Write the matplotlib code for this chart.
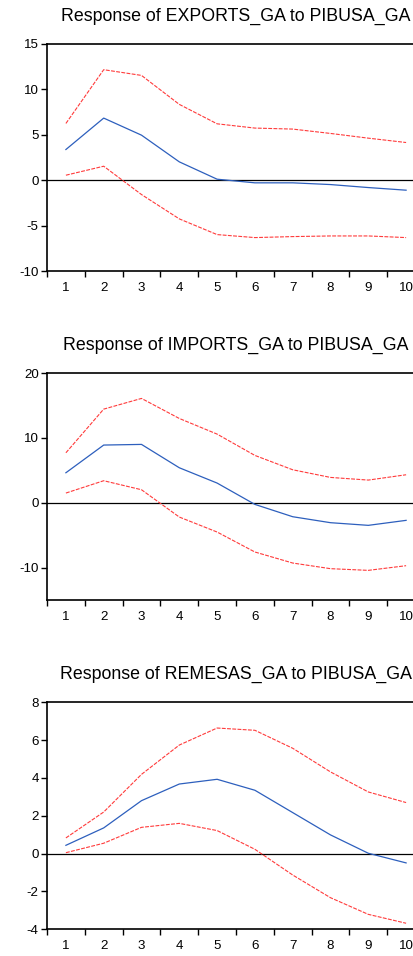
import matplotlib
matplotlib.use("Agg")
import matplotlib.pyplot as plt
from matplotlib.ticker import FixedLocator

plt.rcParams['font.family'] = ['Liberation Sans', 'DejaVu Sans']

periods = list(range(1, 11))

# Impulse responses to a PIBUSA_GA shock, with +/- 2 S.E. bands
exports_resp = [3.38, 6.84, 4.96, 2.02, 0.11, -0.29, -0.29, -0.48, -0.81, -1.10]
exports_upper = [6.25, 12.17, 11.54, 8.35, 6.21, 5.74, 5.63, 5.15, 4.63, 4.15]
exports_lower = [0.55, 1.54, -1.58, -4.26, -5.99, -6.32, -6.21, -6.14, -6.14, -6.32]

imports_resp = [4.62, 8.89, 8.99, 5.39, 3.03, -0.26, -2.16, -3.08, -3.49, -2.72]
imports_upper = [7.70, 14.43, 16.08, 12.99, 10.58, 7.29, 5.08, 3.90, 3.49, 4.31]
imports_lower = [1.49, 3.39, 2.00, -2.21, -4.52, -7.60, -9.30, -10.17, -10.43, -9.71]

remesas_resp = [0.44, 1.36, 2.80, 3.68, 3.93, 3.35, 2.17, 0.99, 0.02, -0.49]
remesas_upper = [0.83, 2.20, 4.19, 5.74, 6.64, 6.52, 5.57, 4.32, 3.26, 2.70]
remesas_lower = [0.05, 0.55, 1.39, 1.60, 1.22, 0.23, -1.13, -2.33, -3.21, -3.68]

titles = ["Response of EXPORTS_GA to PIBUSA_GA",
          "Response of IMPORTS_GA to PIBUSA_GA",
          "Response of REMESAS_GA to PIBUSA_GA"]
y_limits = [(-10, 15), (-15, 20), (-4, 8)]
y_ticks = [[-10, -5, 0, 5, 10, 15], [-10, 0, 10, 20], [-4, -2, 0, 2, 4, 6, 8]]

panels = [
    (exports_resp, exports_upper, exports_lower),
    (imports_resp, imports_upper, imports_lower),
    (remesas_resp, remesas_upper, remesas_lower),
]

W, H = 414, 956
fig = plt.figure(figsize=(W / 100, H / 100), dpi=100)

left_px, width_px = 47, 378
tops_px = [44, 373, 702.3]
height_px = 227

blue = "#2d5fbd"
red = "#ff3b3b"

for i, (resp, up, lo) in enumerate(panels):
    top = tops_px[i]
    ax = fig.add_axes([left_px / W, (H - top - height_px) / H,
                       width_px / W, height_px / H])
    ax.axhline(0, color="black", lw=0.9, zorder=1)
    ax.plot(periods, up, color=red, lw=0.8, dashes=(3.5, 1.2), zorder=2)
    ax.plot(periods, lo, color=red, lw=0.8, dashes=(3.5, 1.2), zorder=2)
    ax.plot(periods, resp, color=blue, lw=0.9, zorder=3)

    ax.set_xlim(0.5, 10.5)
    ax.set_ylim(*y_limits[i])
    ax.set_yticks(y_ticks[i])
    ax.set_yticklabels([str(v) for v in y_ticks[i]])
    ax.set_xticks(periods)
    ax.set_xticklabels([str(p) for p in periods])
    ax.xaxis.set_minor_locator(FixedLocator([p - 0.5 for p in periods] + [10.5]))
    ax.tick_params(axis="x", which="major", length=0, pad=8, labelsize=9.6)
    ax.tick_params(axis="x", which="minor", length=4, width=1.0, direction="out")
    ax.tick_params(axis="y", which="major", length=4, width=1.0, pad=2, labelsize=9.6,
                   direction="out")
    for s in ax.spines.values():
        s.set_linewidth(1.2)
        s.set_color("black")

    ax.text(0.5, 1 + 28 / height_px, titles[i], transform=ax.transAxes,
            ha="center", va="center", fontsize=12.8)

fig.savefig("out.png", dpi=100)
